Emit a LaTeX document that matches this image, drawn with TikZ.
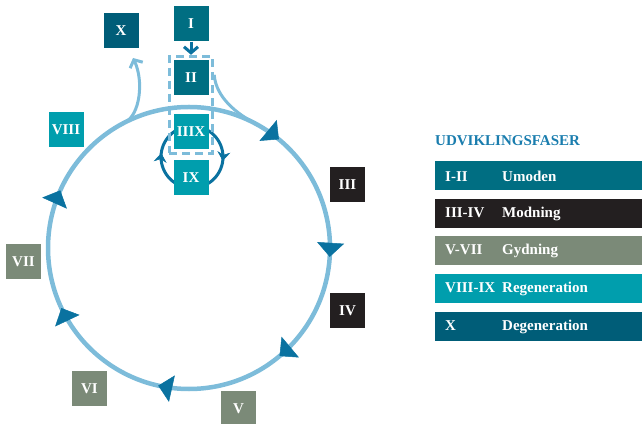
\documentclass[tikz,border=0pt]{standalone}
\usepackage{fontspec}
\setmainfont{Liberation Serif}
\usetikzlibrary{arrows.meta,decorations.markings,fit,calc}
\definecolor{umoden}{HTML}{006E82}
\definecolor{modning}{HTML}{231F20}
\definecolor{gydning}{HTML}{7B8A78}
\definecolor{regen}{HTML}{009EAD}
\definecolor{degen}{HTML}{005D78}
\definecolor{ringblue}{HTML}{7DBCDA}
\definecolor{tipblue}{HTML}{0A72A0}
\definecolor{titleblue}{HTML}{1A7DAE}
\begin{document}
\begin{tikzpicture}[x=1pt,y=1pt,
    box/.style={fill=#1, text=white, minimum size=35pt, inner sep=0pt, font=\bfseries\fontsize{15}{15}\selectfont},
    bar/.style={fill=#1, text=white, anchor=west, minimum height=29pt, text width=187pt, inner xsep=10pt, align=left, font=\bfseries\fontsize{15}{15}\selectfont},
    ring/.style={draw=ringblue, line width=4.5pt},
    cyc/.style={postaction={decorate}, decoration={markings,
        mark=at position 0.11 with {\arrow[tipblue]{Triangle[length=14pt,width=27pt,line width=0.5pt]}},
        mark=at position 0.26 with {\arrow[tipblue]{Triangle[length=14pt,width=27pt,line width=0.5pt]}},
        mark=at position 0.389 with {\arrow[tipblue]{Triangle[length=14pt,width=27pt,line width=0.5pt]}},
        mark=at position 0.535 with {\arrow[tipblue]{Triangle[length=14pt,width=27pt,line width=0.5pt]}},
        mark=at position 0.68 with {\arrow[tipblue]{Triangle[length=14pt,width=27pt,line width=0.5pt]}},
        mark=at position 0.817 with {\arrow[tipblue]{Triangle[length=14pt,width=27pt,line width=0.5pt]}}}},
    small/.style={draw=tipblue, line width=3pt, postaction={decorate}, decoration={markings,
        mark=at position 0.27 with {\arrow[tipblue]{Stealth[length=9pt,width=13pt,line width=0.5pt]}},
        mark=at position 0.77 with {\arrow[tipblue]{Stealth[length=9pt,width=13pt,line width=0.5pt]}}}}]
\useasboundingbox (0,0) rectangle (642,423);

% main cycle
\coordinate (c) at (189,175);
\draw[ring, cyc] (c) ++(90:141) arc[start angle=90, end angle=-270, radius=141];
\coordinate (split) at ($(c)+(117:141)$);

% regeneration loop
\coordinate (c2) at (192,266);
\draw[small] (c2) ++(90:31) arc[start angle=90, end angle=-270, radius=31];

% phase boxes
\node[box=umoden] (I) at (191,399) {I};
\node[box=umoden] (II) at (191,345) {II};
\node[box=regen] (IIIX) at (191,291.5) {IIIX};
\node[box=regen] (IX) at (191,245) {IX};
\node[box=regen] (VIII) at (66,293.5) {VIII};
\node[box=gydning] (VII) at (23.5,161.5) {VII};
\node[box=gydning] (VI) at (89.5,34.5) {VI};
\node[box=gydning] (V) at (238.5,14.5) {V};
\node[box=modning] (III) at (347.5,238.5) {III};
\node[box=modning] (IV) at (347.5,112.5) {IV};
\node[box=degen] (X) at (121,392) {X};

\node[draw=ringblue, line width=3pt, dash pattern=on 8pt off 5pt, inner sep=4pt, fit=(II)(IIIX)] (grp) {};

% connectors
\draw[tipblue, line width=3pt, -{Straight Barb[length=6pt,width=14pt]}] (I.south) -- (grp.north);
\coordinate (xtip) at (133,365);
\draw[ringblue, line width=3pt, -{Straight Barb[length=6pt,width=14pt]}] (split) .. controls (140,308) and (144,342) .. (xtip);
\draw[ringblue, line width=3pt] ([yshift=-20pt]grp.north east) .. controls (216,325) and (237.5,309) .. ($(c)+(62:141)$);

% legend
\node[anchor=base west, inner sep=0pt, text=titleblue, font=\bfseries\fontsize{15}{15}\selectfont] (title) at (435,277) {UDVIKLINGSFASER};
\node[bar=umoden] (l1) at (435,247) {\makebox[57pt][l]{I-II}Umoden};
\node[bar=modning] (l2) at (435,209.5) {\makebox[57pt][l]{III-IV}Modning};
\node[bar=gydning] (l3) at (435,172) {\makebox[57pt][l]{V-VII}Gydning};
\node[bar=regen] (l4) at (435,134.5) {\makebox[57pt][l]{VIII-IX}Regeneration};
\node[bar=degen] (l5) at (435,96.5) {\makebox[57pt][l]{X}Degeneration};
\end{tikzpicture}
\end{document}
